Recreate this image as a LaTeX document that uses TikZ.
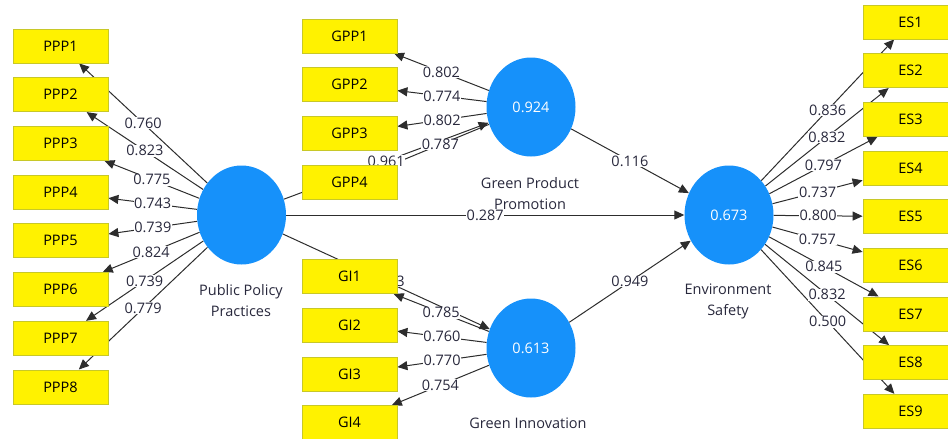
\documentclass[tikz,border=0pt]{standalone}
\usepackage{fontspec}
\setmainfont{Open Sans}
\usetikzlibrary{shapes.geometric,arrows.meta,backgrounds}
\definecolor{lvblue}{RGB}{22,145,250}
\definecolor{boxedge}{RGB}{200,200,40}
\definecolor{labtxt}{RGB}{40,40,60}
\definecolor{edgecol}{RGB}{45,45,45}
\begin{document}
\begin{tikzpicture}[x=1pt,y=-1pt,
  lv/.style={ellipse, fill=lvblue, minimum width=89pt, minimum height=99pt, inner sep=0pt, text=white, font=\fontsize{14.5}{16}\selectfont},
  ind/.style={rectangle, fill=yellow, draw=boxedge, line width=0.8pt, minimum width=95pt, minimum height=34pt, inner sep=0pt, font=\fontsize{14.5}{16}\selectfont},
  lvname/.style={align=center, text=labtxt, font=\fontsize{14.5}{21}\selectfont},
  wt/.style={fill=white, inner sep=0.6pt, text=labtxt, font=\fontsize{14.5}{16}\selectfont},
  arr/.style={draw=edgecol, line width=1pt, -{Triangle[length=10pt,width=9pt]}},
]
\useasboundingbox (0,0) rectangle (948,439);
% latent variables
\node[lv] (ppp) at (241.5,215) {};
\node[lv] (gpp) at (531,107) {0.924};
\node[lv] (gi) at (531,348) {0.613};
\node[lv] (es) at (729,215) {0.673};
% indicators
\foreach \i in {1,...,8} \node[ind] (ppp\i) at (60.5,{46+48.7*(\i-1)}) {PPP\i};
\foreach \i in {1,...,4} \node[ind] (gpp\i) at (349.5,{36+48.7*(\i-1)}) {GPP\i};
\foreach \i in {1,...,4} \node[ind] (gi\i) at (349.5,{276.5+48.7*(\i-1)}) {GI\i};
\foreach \i in {1,...,9} \node[ind] (es\i) at (910.5,{22+48.65*(\i-1)}) {ES\i};
\begin{scope}[on background layer]
  % lines
  \foreach \i in {1,...,8} \draw[arr] (ppp) -- (ppp\i);
  \foreach \i in {1,...,4} \draw[arr] (gpp) -- (gpp\i);
  \foreach \i in {1,...,4} \draw[arr] (gi) -- (gi\i);
  \foreach \i in {1,...,9} \draw[arr] (es) -- (es\i);
  \draw[arr] (ppp) -- (gpp);
  \draw[arr] (ppp) -- (gi);
  \draw[arr] (ppp) -- (es);
  \draw[arr] (gpp) -- (es);
  \draw[arr] (gi) -- (es);
  % names
  \node[lvname] (nppp) at (241,301) {Public Policy\\Practices};
  \node[lvname] (ngpp) at (530,194) {Green Product\\Promotion};
  \node[lvname] (ngi) at (528,423) {Green Innovation};
  \node[lvname] (nes) at (728,301) {Environment\\Safety};
  % labels
  \foreach \i/\v in {1/0.760,2/0.823,3/0.775,4/0.743,5/0.739,6/0.824,7/0.739,8/0.779}
    \path (ppp) -- node[wt]{\v} (ppp\i);
  \foreach \i/\v in {1/0.802,2/0.774,3/0.802,4/0.787}
    \path (gpp) -- node[wt]{\v} (gpp\i);
  \foreach \i/\v in {1/0.785,2/0.760,3/0.770,4/0.754}
    \path (gi) -- node[wt]{\v} (gi\i);
  \foreach \i/\v in {1/0.836,2/0.832,3/0.797,4/0.737,5/0.800,6/0.757,7/0.845,8/0.832,9/0.500}
    \path (es) -- node[wt]{\v} (es\i);
  \path (ppp) -- node[wt]{0.961} (gpp);
  \path (ppp) -- node[wt]{0.783} (gi);
  \path (ppp) -- node[wt]{0.287} (es);
  \path (gpp) -- node[wt]{0.116} (es);
  \path (gi) -- node[wt]{0.949} (es);
\end{scope}
\end{tikzpicture}
\end{document}
